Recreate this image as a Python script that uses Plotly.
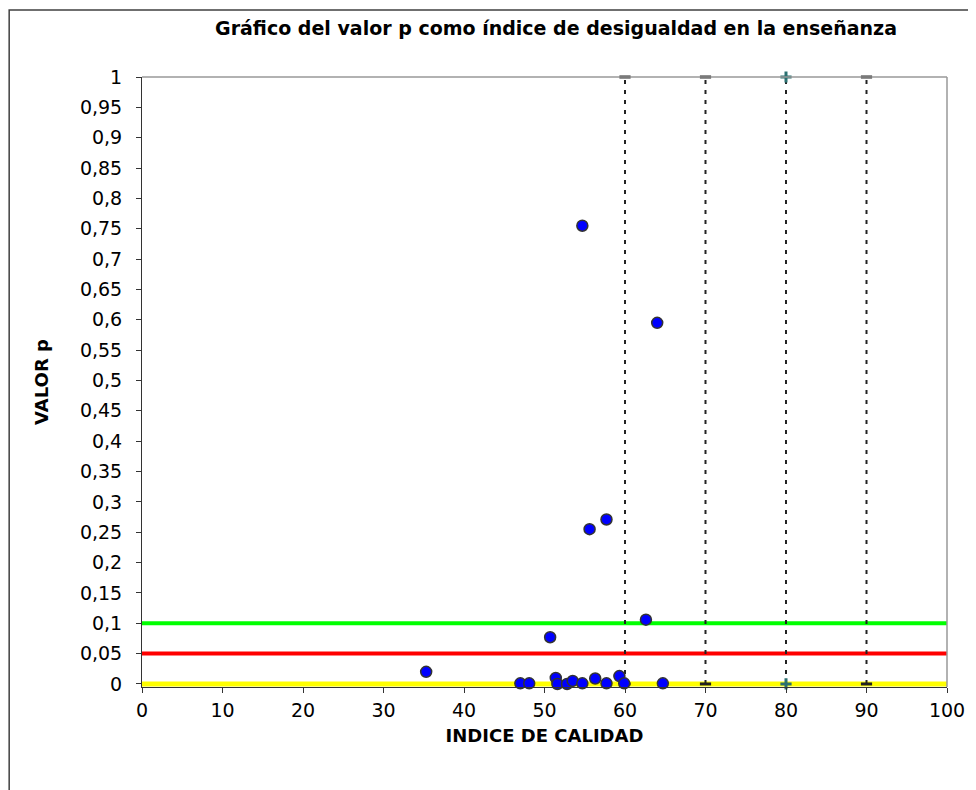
import plotly.graph_objects as go

# Data
x_indice = [54.7, 64.0, 57.7, 55.6, 62.6, 50.7, 35.3, 47.0, 48.1, 51.4, 51.6,
            52.8, 53.5, 54.7, 56.3, 57.7, 59.3, 59.9, 64.7]
p_valor = [0.755, 0.595, 0.271, 0.255, 0.106, 0.077, 0.020, 0.001, 0.001, 0.010,
           0.000, 0.000, 0.005, 0.001, 0.009, 0.001, 0.013, 0.001, 0.001]

# Reference lines
umbral_p = [0.1, 0.05, 0.0]
umbral_colores = ["#00ff00", "#ff0000", "#ffff00"]
cortes_indice = [60, 70, 80, 90]
x_rango = [0, 100]
y_rango = [0, 1]

y_ticks = [round(i * 0.05, 2) for i in range(21)]
y_ticktext = [("%g" % v).replace(".", ",") for v in y_ticks]
x_ticks = list(range(0, 101, 10))

FONT = "DejaVu Sans, Verdana, sans-serif"

fig = go.Figure()

for p, c in zip(umbral_p, umbral_colores):
    fig.add_trace(go.Scatter(
        x=x_rango, y=[p, p], mode="lines",
        line=dict(color=c, width=5 if p == 0 else 4),
        hoverinfo="skip", showlegend=False, cliponaxis=False))

for xc in cortes_indice:
    if xc == 80:
        msym, mcol = "cross-thin", "#2a7070"
    else:
        msym, mcol = "line-ew", "#222222"
    fig.add_trace(go.Scatter(
        x=[xc, xc], y=y_rango, mode="lines+markers",
        line=dict(color="#222222", width=2, dash="4px,6px"),
        marker=dict(symbol=msym, size=8, color=mcol,
                    line=dict(color=mcol, width=3)),
        hoverinfo="skip", showlegend=False, cliponaxis=False))

fig.add_trace(go.Scatter(
    x=x_indice, y=p_valor, mode="markers",
    marker=dict(symbol="circle", size=11, color="#0000ff",
                line=dict(color="#333333", width=1.5)),
    showlegend=False, cliponaxis=False))

# Outer chart frame and plot-area border (top / right)
fig.add_shape(type="rect", xref="paper", yref="paper",
              x0=-0.165, x1=1.2, y0=-0.4, y1=1.1098,
              line=dict(color="#404040", width=1.5), layer="below")
fig.add_shape(type="line", xref="paper", yref="paper",
              x0=0, x1=1, y0=1, y1=1, line=dict(color="#999999", width=1.5))
fig.add_shape(type="line", xref="paper", yref="paper",
              x0=1, x1=1, y0=0, y1=1, line=dict(color="#999999", width=1.5))

fig.update_layout(
    width=968, height=782,
    margin=dict(l=134, r=29, t=69, b=103),
    paper_bgcolor="white", plot_bgcolor="white",
    font=dict(family=FONT, color="black"),
    title=dict(text="<b>Gráfico del valor p como índice de desigualdad en la enseñanza</b>",
               x=548 / 968, xref="container", xanchor="center",
               y=1 - 20 / 782, yref="container", yanchor="middle",
               font=dict(size=19, family=FONT, color="black")),
    xaxis=dict(range=x_rango, tickvals=x_ticks, showgrid=False, zeroline=False,
               showline=True, linecolor="#333333", linewidth=1,
               ticks="outside", ticklen=5, tickcolor="#333333",
               tickfont=dict(size=19), ticklabelstandoff=1,
               title=dict(text="<b>INDICE DE CALIDAD</b>", font=dict(size=18),
                          standoff=9)),
    yaxis=dict(range=[-0.005, 1.0], tickvals=y_ticks, ticktext=y_ticktext,
               showgrid=False, zeroline=False,
               showline=True, linecolor="#333333", linewidth=1,
               ticks="outside", ticklen=5, tickcolor="#333333",
               tickfont=dict(size=19), ticklabelstandoff=10,
               title=dict(text="<b>VALOR p</b>", font=dict(size=18),
                          standoff=26)),
)

fig.write_html("out.html")
